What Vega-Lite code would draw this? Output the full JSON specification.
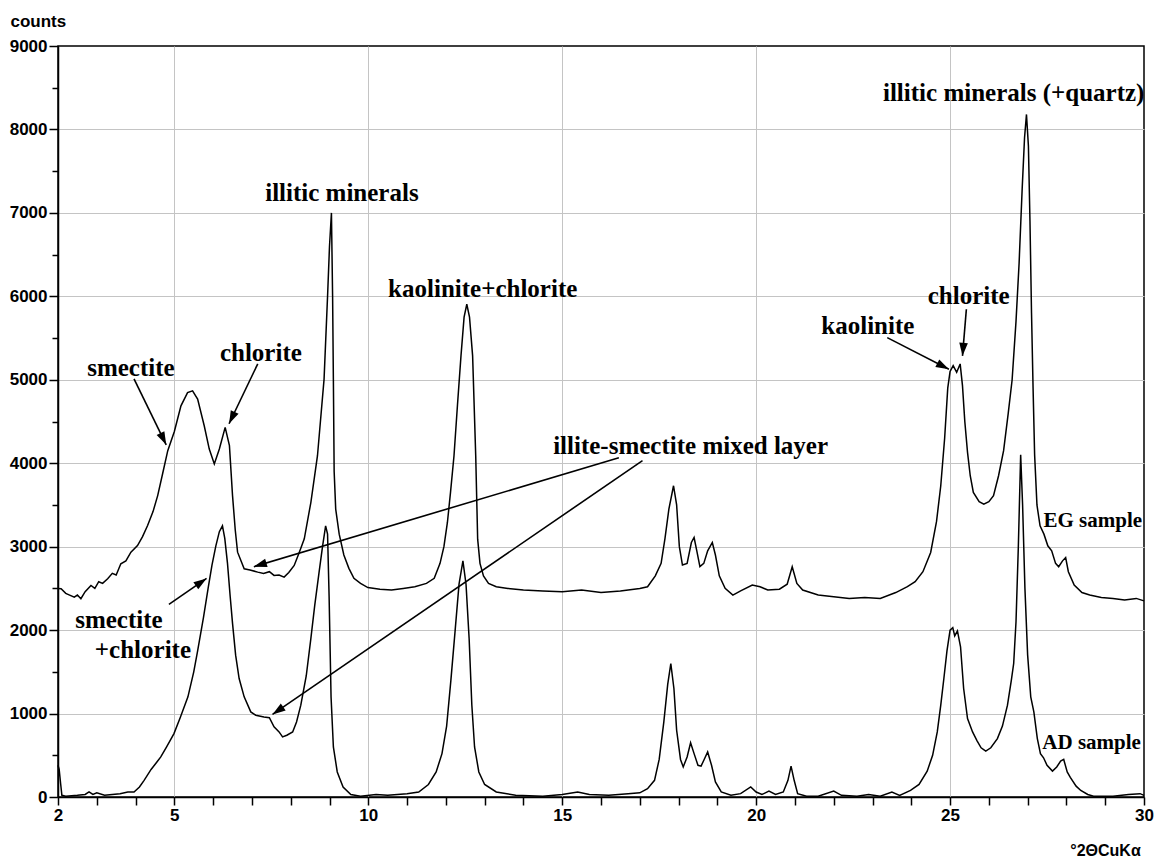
{
  "$schema": "https://vega.github.io/schema/vega-lite/v6.json",
  "width": 1086,
  "height": 751,
  "autosize": {"type": "none"},
  "padding": {"left": 58, "top": 46, "right": 10, "bottom": 61},
  "background": "white",
  "config": {
    "view": {"stroke": "black", "strokeWidth": 1.5},
    "axis": {
      "domainColor": "black", "domainWidth": 1.5,
      "tickColor": "black", "tickWidth": 1.5,
      "labelFont": "Liberation Sans", "labelFontWeight": "bold", "labelFontSize": 17, "labelColor": "black",
      "titleFont": "Liberation Sans", "titleFontWeight": "bold", "titleFontSize": 17, "titleColor": "black"
    }
  },
  "datasets": {
    "xrd": [
      {"sample":"EG","deg":2.0,"counts":2500},{"sample":"EG","deg":2.08,"counts":2496},{"sample":"EG","deg":2.2,"counts":2440},{"sample":"EG","deg":2.3,"counts":2420},{"sample":"EG","deg":2.42,"counts":2396},{"sample":"EG","deg":2.5,"counts":2420},{"sample":"EG","deg":2.59,"counts":2376},{"sample":"EG","deg":2.7,"counts":2460},{"sample":"EG","deg":2.85,"counts":2535},{"sample":"EG","deg":2.95,"counts":2500},{"sample":"EG","deg":3.05,"counts":2580},{"sample":"EG","deg":3.15,"counts":2560},{"sample":"EG","deg":3.28,"counts":2616},{"sample":"EG","deg":3.4,"counts":2680},{"sample":"EG","deg":3.5,"counts":2660},{"sample":"EG","deg":3.62,"counts":2795},{"sample":"EG","deg":3.75,"counts":2830},{"sample":"EG","deg":3.88,"counts":2934},{"sample":"EG","deg":4.05,"counts":3014},{"sample":"EG","deg":4.18,"counts":3120},{"sample":"EG","deg":4.31,"counts":3253},{"sample":"EG","deg":4.45,"counts":3420},{"sample":"EG","deg":4.57,"counts":3612},{"sample":"EG","deg":4.7,"counts":3880},{"sample":"EG","deg":4.83,"counts":4150},{"sample":"EG","deg":5.0,"counts":4380},{"sample":"EG","deg":5.17,"counts":4688},{"sample":"EG","deg":5.34,"counts":4847},{"sample":"EG","deg":5.47,"counts":4868},{"sample":"EG","deg":5.6,"counts":4768},{"sample":"EG","deg":5.77,"counts":4449},{"sample":"EG","deg":5.9,"counts":4170},{"sample":"EG","deg":6.03,"counts":3991},{"sample":"EG","deg":6.16,"counts":4170},{"sample":"EG","deg":6.31,"counts":4429},{"sample":"EG","deg":6.42,"counts":4210},{"sample":"EG","deg":6.5,"counts":3612},{"sample":"EG","deg":6.57,"counts":3200},{"sample":"EG","deg":6.63,"counts":2934},{"sample":"EG","deg":6.8,"counts":2735},{"sample":"EG","deg":6.95,"counts":2720},{"sample":"EG","deg":7.15,"counts":2695},{"sample":"EG","deg":7.3,"counts":2680},{"sample":"EG","deg":7.45,"counts":2700},{"sample":"EG","deg":7.57,"counts":2655},{"sample":"EG","deg":7.7,"counts":2660},{"sample":"EG","deg":7.83,"counts":2635},{"sample":"EG","deg":7.95,"counts":2690},{"sample":"EG","deg":8.09,"counts":2775},{"sample":"EG","deg":8.22,"counts":2930},{"sample":"EG","deg":8.35,"counts":3094},{"sample":"EG","deg":8.52,"counts":3532},{"sample":"EG","deg":8.69,"counts":4090},{"sample":"EG","deg":8.86,"counts":5008},{"sample":"EG","deg":8.95,"counts":6000},{"sample":"EG","deg":9.0,"counts":6600},{"sample":"EG","deg":9.05,"counts":7000},{"sample":"EG","deg":9.08,"counts":6000},{"sample":"EG","deg":9.1,"counts":5000},{"sample":"EG","deg":9.12,"counts":3900},{"sample":"EG","deg":9.16,"counts":3450},{"sample":"EG","deg":9.25,"counts":3150},{"sample":"EG","deg":9.37,"counts":2900},{"sample":"EG","deg":9.5,"counts":2740},{"sample":"EG","deg":9.63,"counts":2620},{"sample":"EG","deg":9.8,"counts":2560},{"sample":"EG","deg":9.99,"counts":2510},{"sample":"EG","deg":10.3,"counts":2490},{"sample":"EG","deg":10.6,"counts":2480},{"sample":"EG","deg":10.9,"counts":2500},{"sample":"EG","deg":11.2,"counts":2520},{"sample":"EG","deg":11.5,"counts":2560},{"sample":"EG","deg":11.7,"counts":2620},{"sample":"EG","deg":11.85,"counts":2800},{"sample":"EG","deg":11.95,"counts":3000},{"sample":"EG","deg":12.04,"counts":3290},{"sample":"EG","deg":12.12,"counts":3650},{"sample":"EG","deg":12.21,"counts":4090},{"sample":"EG","deg":12.3,"counts":4700},{"sample":"EG","deg":12.39,"counts":5286},{"sample":"EG","deg":12.47,"counts":5750},{"sample":"EG","deg":12.54,"counts":5905},{"sample":"EG","deg":12.61,"counts":5750},{"sample":"EG","deg":12.69,"counts":5286},{"sample":"EG","deg":12.77,"counts":4090},{"sample":"EG","deg":12.82,"counts":3090},{"sample":"EG","deg":12.88,"counts":2800},{"sample":"EG","deg":12.97,"counts":2650},{"sample":"EG","deg":13.1,"counts":2560},{"sample":"EG","deg":13.3,"counts":2520},{"sample":"EG","deg":13.6,"counts":2500},{"sample":"EG","deg":14.0,"counts":2480},{"sample":"EG","deg":14.5,"counts":2470},{"sample":"EG","deg":15.0,"counts":2460},{"sample":"EG","deg":15.5,"counts":2480},{"sample":"EG","deg":16.0,"counts":2450},{"sample":"EG","deg":16.5,"counts":2470},{"sample":"EG","deg":17.0,"counts":2500},{"sample":"EG","deg":17.2,"counts":2520},{"sample":"EG","deg":17.4,"counts":2650},{"sample":"EG","deg":17.55,"counts":2800},{"sample":"EG","deg":17.65,"counts":3100},{"sample":"EG","deg":17.75,"counts":3450},{"sample":"EG","deg":17.87,"counts":3730},{"sample":"EG","deg":17.95,"counts":3500},{"sample":"EG","deg":18.02,"counts":3000},{"sample":"EG","deg":18.1,"counts":2780},{"sample":"EG","deg":18.22,"counts":2800},{"sample":"EG","deg":18.33,"counts":3050},{"sample":"EG","deg":18.4,"counts":3110},{"sample":"EG","deg":18.47,"counts":2950},{"sample":"EG","deg":18.55,"counts":2760},{"sample":"EG","deg":18.65,"counts":2800},{"sample":"EG","deg":18.75,"counts":2950},{"sample":"EG","deg":18.87,"counts":3050},{"sample":"EG","deg":18.95,"counts":2900},{"sample":"EG","deg":19.05,"counts":2650},{"sample":"EG","deg":19.2,"counts":2500},{"sample":"EG","deg":19.4,"counts":2420},{"sample":"EG","deg":19.6,"counts":2470},{"sample":"EG","deg":19.9,"counts":2540},{"sample":"EG","deg":20.1,"counts":2520},{"sample":"EG","deg":20.3,"counts":2480},{"sample":"EG","deg":20.6,"counts":2490},{"sample":"EG","deg":20.8,"counts":2550},{"sample":"EG","deg":20.93,"counts":2760},{"sample":"EG","deg":21.05,"counts":2560},{"sample":"EG","deg":21.2,"counts":2480},{"sample":"EG","deg":21.6,"counts":2420},{"sample":"EG","deg":22.0,"counts":2400},{"sample":"EG","deg":22.4,"counts":2380},{"sample":"EG","deg":22.8,"counts":2390},{"sample":"EG","deg":23.2,"counts":2380},{"sample":"EG","deg":23.6,"counts":2450},{"sample":"EG","deg":23.9,"counts":2520},{"sample":"EG","deg":24.1,"counts":2580},{"sample":"EG","deg":24.3,"counts":2700},{"sample":"EG","deg":24.5,"counts":2930},{"sample":"EG","deg":24.65,"counts":3300},{"sample":"EG","deg":24.76,"counts":3730},{"sample":"EG","deg":24.86,"counts":4300},{"sample":"EG","deg":24.94,"counts":4900},{"sample":"EG","deg":25.0,"counts":5100},{"sample":"EG","deg":25.08,"counts":5170},{"sample":"EG","deg":25.17,"counts":5090},{"sample":"EG","deg":25.26,"counts":5190},{"sample":"EG","deg":25.32,"counts":4930},{"sample":"EG","deg":25.38,"counts":4500},{"sample":"EG","deg":25.45,"counts":4130},{"sample":"EG","deg":25.52,"counts":3850},{"sample":"EG","deg":25.6,"counts":3650},{"sample":"EG","deg":25.75,"counts":3540},{"sample":"EG","deg":25.87,"counts":3510},{"sample":"EG","deg":26.0,"counts":3540},{"sample":"EG","deg":26.12,"counts":3610},{"sample":"EG","deg":26.25,"counts":3850},{"sample":"EG","deg":26.38,"counts":4150},{"sample":"EG","deg":26.5,"counts":4600},{"sample":"EG","deg":26.6,"counts":5000},{"sample":"EG","deg":26.7,"counts":5700},{"sample":"EG","deg":26.78,"counts":6400},{"sample":"EG","deg":26.86,"counts":7300},{"sample":"EG","deg":26.92,"counts":7900},{"sample":"EG","deg":26.97,"counts":8180},{"sample":"EG","deg":27.02,"counts":7800},{"sample":"EG","deg":27.06,"counts":6900},{"sample":"EG","deg":27.1,"counts":5800},{"sample":"EG","deg":27.14,"counts":4900},{"sample":"EG","deg":27.18,"counts":4100},{"sample":"EG","deg":27.24,"counts":3500},{"sample":"EG","deg":27.32,"counts":3250},{"sample":"EG","deg":27.42,"counts":3150},{"sample":"EG","deg":27.52,"counts":3010},{"sample":"EG","deg":27.62,"counts":2950},{"sample":"EG","deg":27.72,"counts":2800},{"sample":"EG","deg":27.8,"counts":2760},{"sample":"EG","deg":27.9,"counts":2830},{"sample":"EG","deg":27.98,"counts":2870},{"sample":"EG","deg":28.05,"counts":2700},{"sample":"EG","deg":28.2,"counts":2540},{"sample":"EG","deg":28.4,"counts":2450},{"sample":"EG","deg":28.6,"counts":2420},{"sample":"EG","deg":28.9,"counts":2390},{"sample":"EG","deg":29.2,"counts":2380},{"sample":"EG","deg":29.5,"counts":2360},{"sample":"EG","deg":29.8,"counts":2380},{"sample":"EG","deg":30.0,"counts":2350},
      {"sample":"AD","deg":2.0,"counts":380},{"sample":"AD","deg":2.03,"counts":330},{"sample":"AD","deg":2.07,"counts":150},{"sample":"AD","deg":2.1,"counts":20},{"sample":"AD","deg":2.2,"counts":10},{"sample":"AD","deg":2.5,"counts":20},{"sample":"AD","deg":2.7,"counts":30},{"sample":"AD","deg":2.8,"counts":60},{"sample":"AD","deg":2.9,"counts":30},{"sample":"AD","deg":3.0,"counts":50},{"sample":"AD","deg":3.2,"counts":20},{"sample":"AD","deg":3.4,"counts":30},{"sample":"AD","deg":3.6,"counts":40},{"sample":"AD","deg":3.8,"counts":60},{"sample":"AD","deg":3.96,"counts":60},{"sample":"AD","deg":4.1,"counts":120},{"sample":"AD","deg":4.22,"counts":200},{"sample":"AD","deg":4.4,"counts":330},{"sample":"AD","deg":4.55,"counts":420},{"sample":"AD","deg":4.65,"counts":480},{"sample":"AD","deg":4.8,"counts":600},{"sample":"AD","deg":4.99,"counts":760},{"sample":"AD","deg":5.15,"counts":950},{"sample":"AD","deg":5.35,"counts":1200},{"sample":"AD","deg":5.5,"counts":1500},{"sample":"AD","deg":5.6,"counts":1750},{"sample":"AD","deg":5.75,"counts":2150},{"sample":"AD","deg":5.87,"counts":2500},{"sample":"AD","deg":5.97,"counts":2780},{"sample":"AD","deg":6.07,"counts":3010},{"sample":"AD","deg":6.16,"counts":3180},{"sample":"AD","deg":6.24,"counts":3250},{"sample":"AD","deg":6.3,"counts":3100},{"sample":"AD","deg":6.37,"counts":2800},{"sample":"AD","deg":6.44,"counts":2400},{"sample":"AD","deg":6.5,"counts":2080},{"sample":"AD","deg":6.58,"counts":1700},{"sample":"AD","deg":6.67,"counts":1420},{"sample":"AD","deg":6.8,"counts":1200},{"sample":"AD","deg":6.97,"counts":1020},{"sample":"AD","deg":7.1,"counts":980},{"sample":"AD","deg":7.31,"counts":960},{"sample":"AD","deg":7.45,"counts":950},{"sample":"AD","deg":7.57,"counts":840},{"sample":"AD","deg":7.7,"counts":780},{"sample":"AD","deg":7.79,"counts":720},{"sample":"AD","deg":7.9,"counts":740},{"sample":"AD","deg":8.05,"counts":780},{"sample":"AD","deg":8.15,"counts":900},{"sample":"AD","deg":8.26,"counts":1100},{"sample":"AD","deg":8.4,"counts":1450},{"sample":"AD","deg":8.52,"counts":1900},{"sample":"AD","deg":8.62,"counts":2300},{"sample":"AD","deg":8.73,"counts":2690},{"sample":"AD","deg":8.82,"counts":3000},{"sample":"AD","deg":8.9,"counts":3250},{"sample":"AD","deg":8.95,"counts":3150},{"sample":"AD","deg":8.99,"counts":2400},{"sample":"AD","deg":9.04,"counts":1200},{"sample":"AD","deg":9.1,"counts":600},{"sample":"AD","deg":9.2,"counts":300},{"sample":"AD","deg":9.35,"counts":120},{"sample":"AD","deg":9.55,"counts":30},{"sample":"AD","deg":9.8,"counts":10},{"sample":"AD","deg":10.2,"counts":30},{"sample":"AD","deg":10.5,"counts":20},{"sample":"AD","deg":11.0,"counts":40},{"sample":"AD","deg":11.3,"counts":60},{"sample":"AD","deg":11.55,"counts":150},{"sample":"AD","deg":11.75,"counts":300},{"sample":"AD","deg":11.9,"counts":520},{"sample":"AD","deg":12.02,"counts":850},{"sample":"AD","deg":12.13,"counts":1400},{"sample":"AD","deg":12.24,"counts":2000},{"sample":"AD","deg":12.34,"counts":2550},{"sample":"AD","deg":12.44,"counts":2830},{"sample":"AD","deg":12.52,"counts":2550},{"sample":"AD","deg":12.6,"counts":1900},{"sample":"AD","deg":12.67,"counts":1100},{"sample":"AD","deg":12.74,"counts":600},{"sample":"AD","deg":12.85,"counts":300},{"sample":"AD","deg":13.0,"counts":150},{"sample":"AD","deg":13.3,"counts":60},{"sample":"AD","deg":13.8,"counts":20},{"sample":"AD","deg":14.5,"counts":10},{"sample":"AD","deg":15.0,"counts":30},{"sample":"AD","deg":15.4,"counts":60},{"sample":"AD","deg":15.7,"counts":30},{"sample":"AD","deg":16.2,"counts":20},{"sample":"AD","deg":16.7,"counts":40},{"sample":"AD","deg":17.0,"counts":50},{"sample":"AD","deg":17.2,"counts":100},{"sample":"AD","deg":17.38,"counts":200},{"sample":"AD","deg":17.5,"counts":450},{"sample":"AD","deg":17.62,"counts":900},{"sample":"AD","deg":17.72,"counts":1350},{"sample":"AD","deg":17.8,"counts":1600},{"sample":"AD","deg":17.88,"counts":1300},{"sample":"AD","deg":17.95,"counts":800},{"sample":"AD","deg":18.05,"counts":450},{"sample":"AD","deg":18.12,"counts":360},{"sample":"AD","deg":18.22,"counts":480},{"sample":"AD","deg":18.31,"counts":650},{"sample":"AD","deg":18.4,"counts":520},{"sample":"AD","deg":18.5,"counts":380},{"sample":"AD","deg":18.58,"counts":370},{"sample":"AD","deg":18.66,"counts":450},{"sample":"AD","deg":18.75,"counts":540},{"sample":"AD","deg":18.85,"counts":380},{"sample":"AD","deg":18.95,"counts":180},{"sample":"AD","deg":19.1,"counts":60},{"sample":"AD","deg":19.35,"counts":20},{"sample":"AD","deg":19.6,"counts":40},{"sample":"AD","deg":19.86,"counts":120},{"sample":"AD","deg":20.0,"counts":60},{"sample":"AD","deg":20.15,"counts":30},{"sample":"AD","deg":20.33,"counts":70},{"sample":"AD","deg":20.5,"counts":30},{"sample":"AD","deg":20.7,"counts":60},{"sample":"AD","deg":20.82,"counts":200},{"sample":"AD","deg":20.9,"counts":370},{"sample":"AD","deg":20.98,"counts":200},{"sample":"AD","deg":21.07,"counts":40},{"sample":"AD","deg":21.3,"counts":10},{"sample":"AD","deg":21.6,"counts":10},{"sample":"AD","deg":22.0,"counts":70},{"sample":"AD","deg":22.2,"counts":20},{"sample":"AD","deg":22.6,"counts":10},{"sample":"AD","deg":22.9,"counts":30},{"sample":"AD","deg":23.2,"counts":10},{"sample":"AD","deg":23.5,"counts":60},{"sample":"AD","deg":23.7,"counts":20},{"sample":"AD","deg":23.98,"counts":80},{"sample":"AD","deg":24.2,"counts":150},{"sample":"AD","deg":24.41,"counts":310},{"sample":"AD","deg":24.55,"counts":500},{"sample":"AD","deg":24.67,"counts":780},{"sample":"AD","deg":24.76,"counts":1100},{"sample":"AD","deg":24.84,"counts":1420},{"sample":"AD","deg":24.92,"counts":1750},{"sample":"AD","deg":25.0,"counts":2000},{"sample":"AD","deg":25.07,"counts":2030},{"sample":"AD","deg":25.12,"counts":1930},{"sample":"AD","deg":25.19,"counts":1990},{"sample":"AD","deg":25.27,"counts":1800},{"sample":"AD","deg":25.35,"counts":1300},{"sample":"AD","deg":25.45,"counts":940},{"sample":"AD","deg":25.58,"counts":780},{"sample":"AD","deg":25.7,"counts":670},{"sample":"AD","deg":25.8,"counts":590},{"sample":"AD","deg":25.92,"counts":550},{"sample":"AD","deg":26.05,"counts":590},{"sample":"AD","deg":26.22,"counts":700},{"sample":"AD","deg":26.35,"counts":850},{"sample":"AD","deg":26.48,"counts":1100},{"sample":"AD","deg":26.58,"counts":1400},{"sample":"AD","deg":26.64,"counts":1600},{"sample":"AD","deg":26.7,"counts":2100},{"sample":"AD","deg":26.76,"counts":3000},{"sample":"AD","deg":26.82,"counts":4100},{"sample":"AD","deg":26.87,"counts":3500},{"sample":"AD","deg":26.93,"counts":2500},{"sample":"AD","deg":27.0,"counts":1700},{"sample":"AD","deg":27.08,"counts":1200},{"sample":"AD","deg":27.16,"counts":1020},{"sample":"AD","deg":27.25,"counts":700},{"sample":"AD","deg":27.33,"counts":520},{"sample":"AD","deg":27.41,"counts":470},{"sample":"AD","deg":27.5,"counts":380},{"sample":"AD","deg":27.64,"counts":310},{"sample":"AD","deg":27.75,"counts":360},{"sample":"AD","deg":27.85,"counts":430},{"sample":"AD","deg":27.93,"counts":450},{"sample":"AD","deg":28.02,"counts":300},{"sample":"AD","deg":28.1,"counts":235},{"sample":"AD","deg":28.25,"counts":130},{"sample":"AD","deg":28.37,"counts":78},{"sample":"AD","deg":28.55,"counts":30},{"sample":"AD","deg":28.7,"counts":10},{"sample":"AD","deg":29.2,"counts":10},{"sample":"AD","deg":29.6,"counts":30},{"sample":"AD","deg":29.9,"counts":40},{"sample":"AD","deg":30.0,"counts":20}
    ],
    "arrows": [
      {"name":"smectite","deg":3.96,"counts":5011,"deg2":4.79,"counts2":4220},
      {"name":"chlorite","deg":7.15,"counts":5191,"deg2":6.41,"counts2":4473},
      {"name":"mixed layer EG","deg":16.46,"counts":4066,"deg2":7.05,"counts2":2760},
      {"name":"mixed layer AD","deg":17.07,"counts":4031,"deg2":7.53,"counts2":990},
      {"name":"smectite+chlorite","deg":4.86,"counts":2308,"deg2":5.83,"counts2":2620},
      {"name":"kaolinite","deg":23.38,"counts":5505,"deg2":24.97,"counts2":5127},
      {"name":"chlorite 25","deg":25.42,"counts":5845,"deg2":25.32,"counts2":5286}
    ],
    "notes": [
      {"label":"smectite","deg":3.88,"counts":5143},
      {"label":"chlorite","deg":7.23,"counts":5322},
      {"label":"illitic minerals","deg":9.32,"counts":7236},
      {"label":"kaolinite+chlorite","deg":12.95,"counts":6088},
      {"label":"illite-smectite mixed layer","deg":18.31,"counts":4210},
      {"label":"smectite","deg":3.57,"counts":2117},
      {"label":"+chlorite","deg":4.19,"counts":1758},
      {"label":"illitic minerals (+quartz)","deg":26.64,"counts":8432},
      {"label":"chlorite","deg":25.48,"counts":6004},
      {"label":"kaolinite","deg":22.88,"counts":5645}
    ],
    "samples": [
      {"label":"EG sample","deg":28.68,"counts":3313},
      {"label":"AD sample","deg":28.65,"counts":646}
    ]
  },
  "layer": [
    {
      "data": {"name": "xrd"},
      "mark": {"type": "line", "color": "black", "strokeWidth": 1.5},
      "encoding": {
        "x": {
          "field": "deg", "type": "quantitative",
          "scale": {"domain": [2, 30], "nice": false, "zero": false},
          "axis": {
            "values": [2,3,4,5,6,7,8,9,10,11,12,13,14,15,16,17,18,19,20,21,22,23,24,25,26,27,28,29,30],
            "tickCount": 60,
            "format": "d",
            "labelExpr": "indexof([2,5,10,15,20,25,30], datum.value) >= 0 ? datum.label : ''",
            "labelOverlap": false, "labelFlush": false, "labelBound": false,
            "labelFont": "Liberation Sans", "labelFontWeight": "bold", "labelFontSize": 17, "labelColor": "black",
            "grid": true, "gridColor": "#c4c4c4", "gridWidth": 1,
            "gridOpacity": {"condition": {"test": "datum.value % 5 == 0 && datum.value > 2 && datum.value < 30", "value": 1}, "value": 0},
            "tickSize": 8, "labelPadding": 2,
            "title": "°2ΘCuKα", "titleFont": "Liberation Sans", "titleFontWeight": "bold", "titleFontSize": 16, "titleColor": "black",
            "titleX": 1047, "titleY": 53, "titleAlign": "center", "titleBaseline": "middle"
          }
        },
        "y": {
          "field": "counts", "type": "quantitative",
          "scale": {"domain": [0, 9000], "nice": false, "zero": true},
          "axis": {
            "values": [0,500,1000,1500,2000,2500,3000,3500,4000,4500,5000,5500,6000,6500,7000,7500,8000,8500,9000],
            "tickCount": 60,
            "format": "d",
            "labelExpr": "datum.value % 1000 == 0 ? datum.label : ''",
            "labelOverlap": false, "labelBound": false,
            "labelFont": "Liberation Sans", "labelFontWeight": "bold", "labelFontSize": 17, "labelColor": "black",
            "tickSize": {"condition": {"test": "datum.value % 1000 == 0", "value": 9}, "value": 6},
            "grid": true, "gridColor": "#c4c4c4", "gridWidth": 1,
            "gridOpacity": {"condition": {"test": "datum.value % 1000 == 0 && datum.value > 0 && datum.value < 9000", "value": 1}, "value": 0},
            "labelPadding": 2,
            "title": "counts", "titleFont": "Liberation Sans", "titleFontWeight": "bold", "titleFontSize": 17, "titleColor": "black",
            "titleAngle": 0, "titleAlign": "left", "titleBaseline": "middle",
            "titleX": -48, "titleY": -25
          }
        },
        "detail": {"field": "sample", "type": "nominal"}
      }
    },
    {
      "data": {"name": "arrows"},
      "mark": {"type": "rule", "color": "black", "strokeWidth": 1.6},
      "encoding": {
        "x": {"field": "deg", "type": "quantitative"},
        "y": {"field": "counts", "type": "quantitative"},
        "x2": {"field": "deg2"},
        "y2": {"field": "counts2"}
      }
    },
    {
      "data": {"name": "arrows"},
      "transform": [
        {"calculate": "atan2((datum.deg2 - datum.deg) * 1086 / 28, (datum.counts2 - datum.counts) * 751 / 9000) * 180 / PI", "as": "ang"}
      ],
      "mark": {"type": "point", "shape": "M0,0L-0.33,1L0.33,1Z", "filled": true, "color": "black", "opacity": 1, "size": 680, "strokeWidth": 0},
      "encoding": {
        "x": {"field": "deg2", "type": "quantitative"},
        "y": {"field": "counts2", "type": "quantitative"},
        "angle": {"field": "ang", "type": "quantitative", "scale": null}
      }
    },
    {
      "data": {"name": "notes"},
      "mark": {"type": "text", "font": "Liberation Serif", "fontWeight": "bold", "fontSize": 25, "align": "center", "baseline": "middle", "color": "black"},
      "encoding": {
        "x": {"field": "deg", "type": "quantitative"},
        "y": {"field": "counts", "type": "quantitative"},
        "text": {"field": "label", "type": "nominal"}
      }
    },
    {
      "data": {"name": "samples"},
      "mark": {"type": "text", "font": "Liberation Serif", "fontWeight": "bold", "fontSize": 21, "align": "center", "baseline": "middle", "color": "black"},
      "encoding": {
        "x": {"field": "deg", "type": "quantitative"},
        "y": {"field": "counts", "type": "quantitative"},
        "text": {"field": "label", "type": "nominal"}
      }
    }
  ]
}
